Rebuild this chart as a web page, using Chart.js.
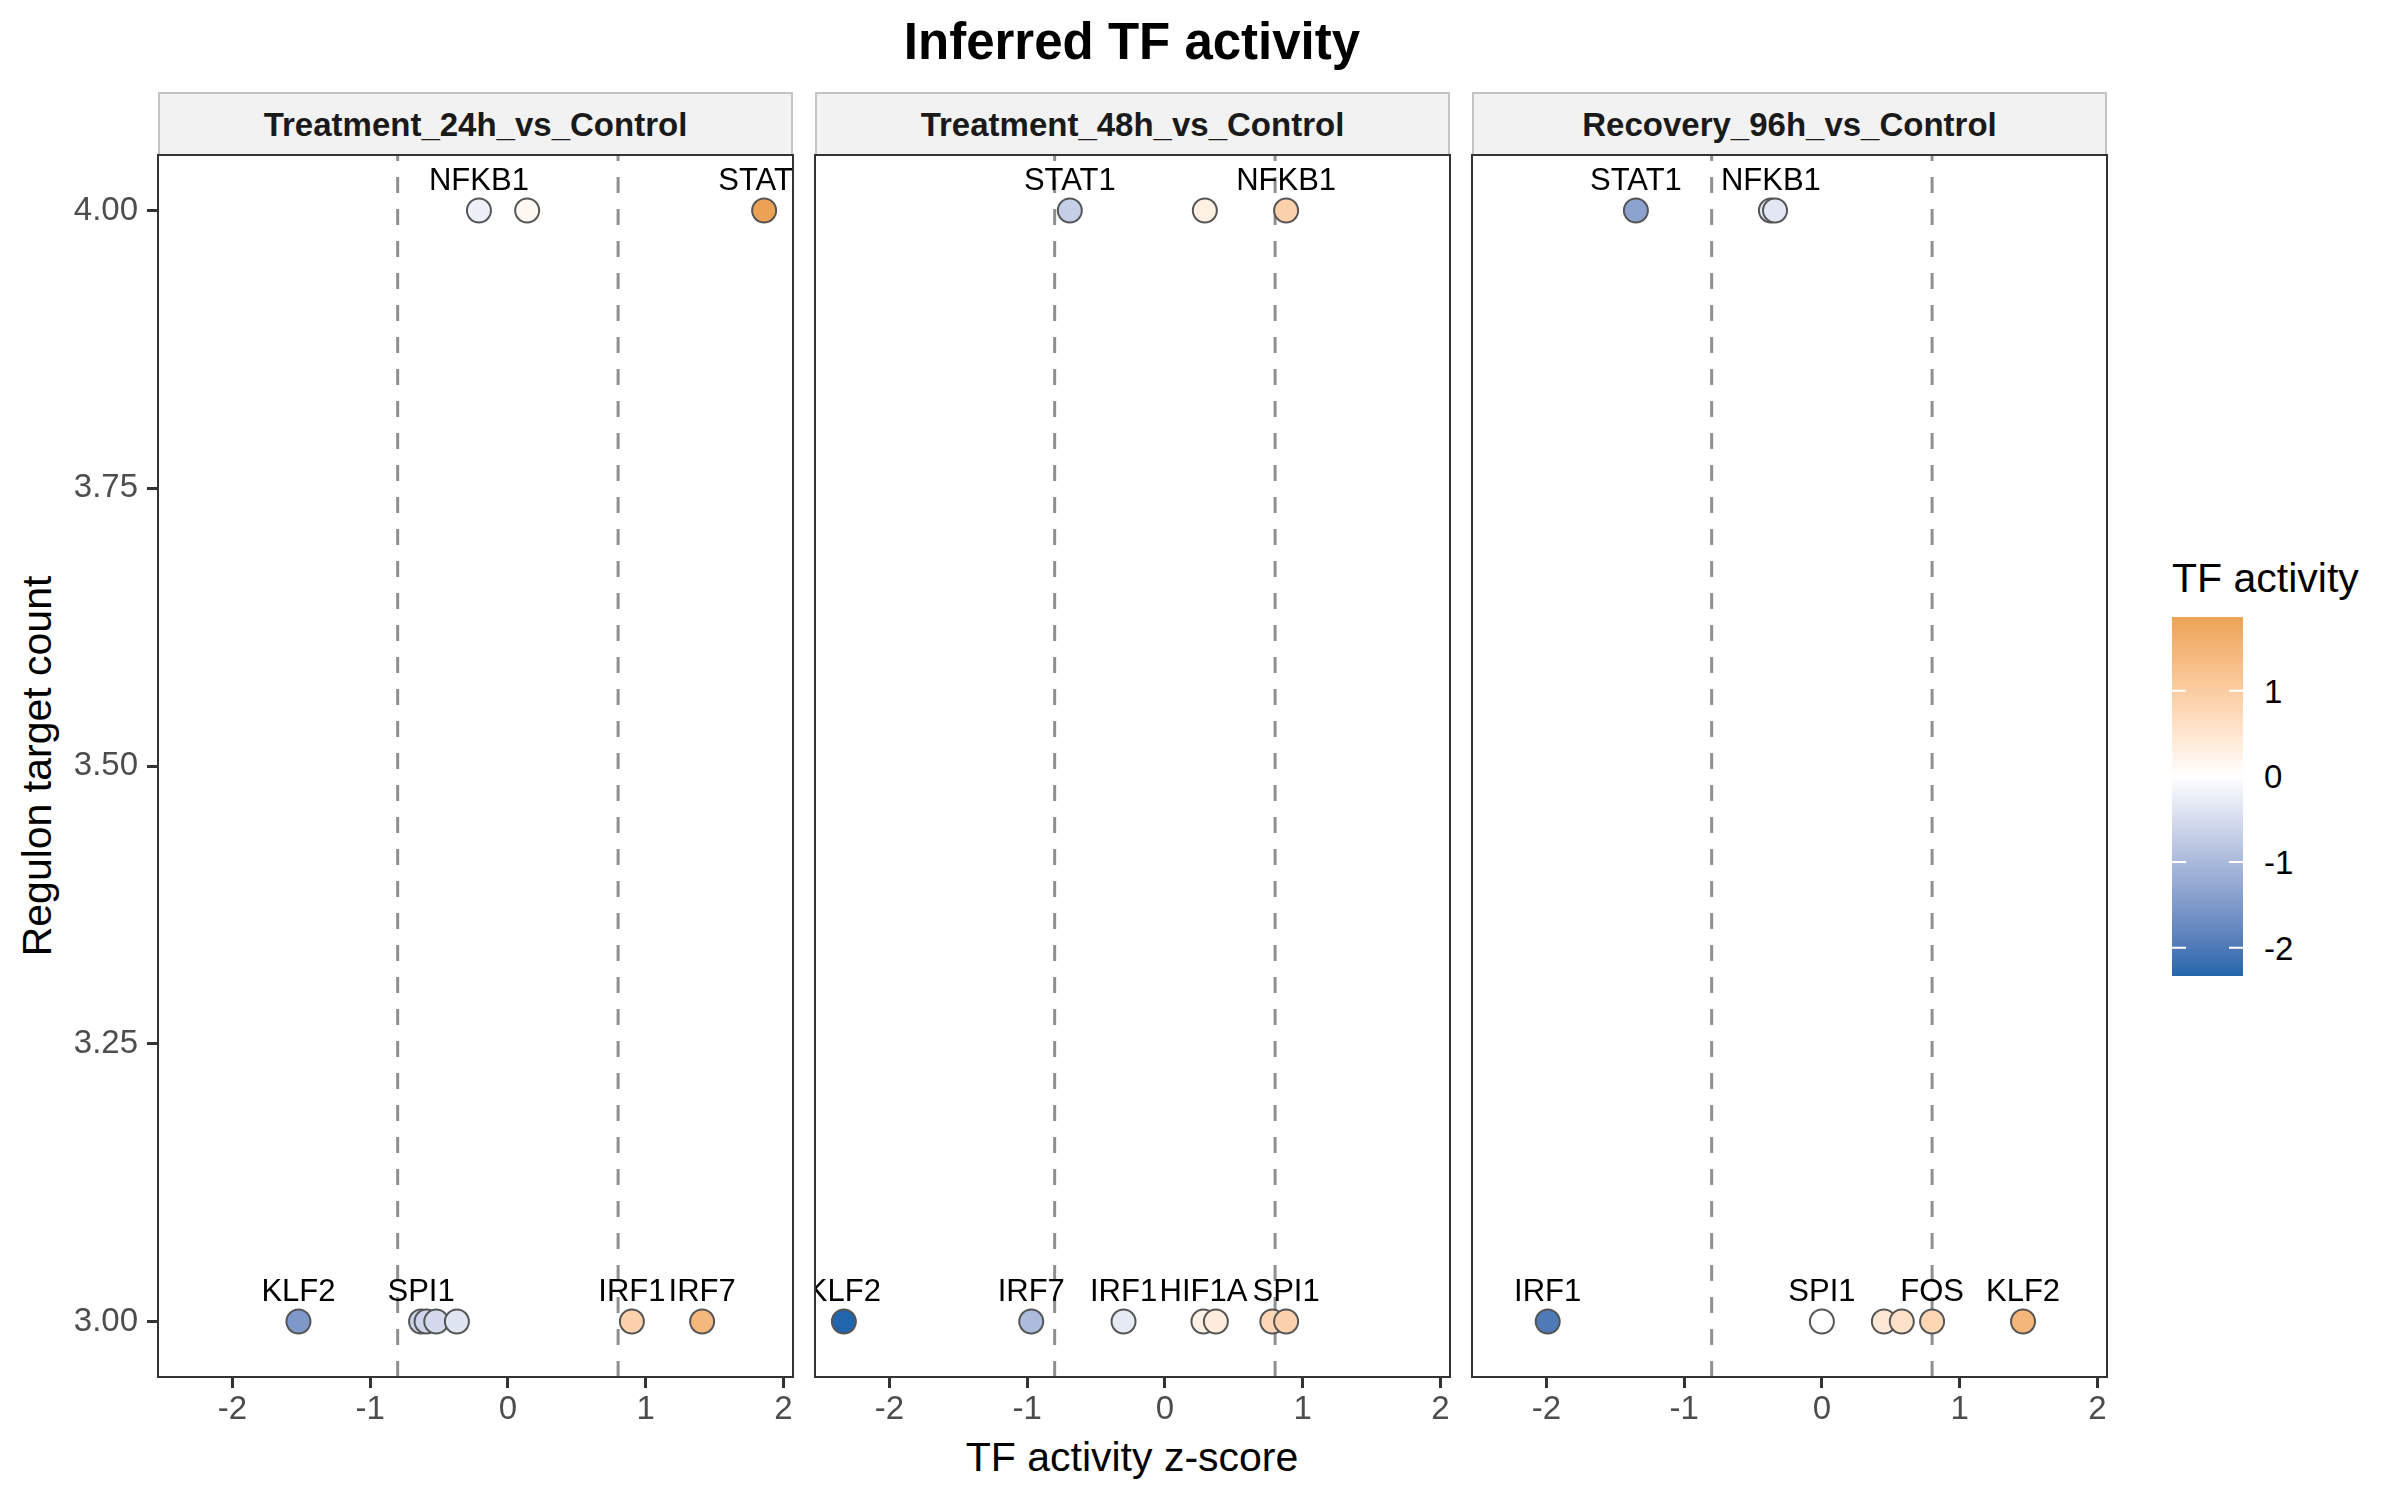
<!DOCTYPE html>
<html>
<head>
<meta charset="utf-8">
<title>Inferred TF activity</title>
<script src="https://cdn.jsdelivr.net/npm/chart.js@4.4.1/dist/chart.umd.min.js"></script>
<style>
    html, body { margin: 0; padding: 0; background: #fff; }
    body {
        width: 2400px; height: 1500px; position: relative; overflow: hidden;
        font-family: 'Liberation Sans', Arial, sans-serif; color: #000;
    }
    .txt { position: absolute; white-space: nowrap; line-height: 1; transform: translate(-50%, -50%); }
    .strip {
        position: absolute; box-sizing: border-box; background: #F2F2F2;
        border: 2px solid #C4C4C4; font-weight: bold; font-size: 33px; color: #1A1A1A;
        display: flex; align-items: center; justify-content: center; line-height: 1;
    }
    .panel { position: absolute; }
    .legLab { position: absolute; font-size: 33px; line-height: 1; transform: translateY(-50%); }
</style>
</head>
<body>

<div class="txt" id="title" style="left:1132px; top:41px; font-size:51px; font-weight:bold;">Inferred TF activity</div>
<div class="txt" style="left:1132px; top:1457px; font-size:41px;">TF activity z-score</div>
<div class="txt" style="left:37px; top:766px; font-size:41px; transform: translate(-50%, -50%) rotate(-90deg);">Regulon target count</div>

<div id="strips"></div>
<div id="panels"></div>

<div class="txt" style="left:2172px; top:578px; font-size:41px; transform: translateY(-50%);">TF activity</div>
<canvas id="legendBar" width="71" height="359" style="position:absolute; left:2172px; top:617px;"></canvas>
<div id="legendLabels"></div>

<script>
/* ---------- data ---------- */
const panelTitles = ['Treatment_24h_vs_Control', 'Treatment_48h_vs_Control', 'Recovery_96h_vs_Control'];

const t24Score = [-0.21, 0.14, 1.86, -1.52, -0.63, -0.59, -0.52, -0.37, 0.90, 1.41];
const t24Count = [4, 4, 4, 3, 3, 3, 3, 3, 3, 3];
const t24Label = ['NFKB1', '', 'STAT1', 'KLF2', 'SPI1', '', '', '', 'IRF1', 'IRF7'];

const t48Score = [-0.69, 0.29, 0.88, -2.33, -0.97, -0.30, 0.28, 0.37, 0.78, 0.88];
const t48Count = [4, 4, 4, 3, 3, 3, 3, 3, 3, 3];
const t48Label = ['STAT1', '', 'NFKB1', 'KLF2', 'IRF7', 'IRF1', 'HIF1A', '', '', 'SPI1'];

const r96Score = [-1.35, -0.37, -0.34, -1.99, 0.00, 0.45, 0.58, 0.80, 1.46];
const r96Count = [4, 4, 4, 3, 3, 3, 3, 3, 3];
const r96Label = ['STAT1', 'NFKB1', '', 'IRF1', 'SPI1', '', '', 'FOS', 'KLF2'];

const thresholds = [-0.8, 0.8];
const xTicks = [-2, -1, 0, 1, 2];
const yTicks = [3, 3.25, 3.5, 3.75, 4];
const legendTicks = [1, 0, -1, -2];

/* ---------- layout ---------- */
const PLOT_TOP = 155, PLOT_BOTTOM = 1377;
const PANEL_LEFT = [158, 815, 1472];
const PANEL_W = 635;
const Y_AXIS_W = 158;
const X_AXIS_H = 1500 - PLOT_BOTTOM;
const PAD = 4;
const FONT = "'Liberation Sans', Arial, sans-serif";

const allScores = [...t24Score, ...t48Score, ...r96Score];
const allCounts = [...t24Count, ...t48Count, ...r96Count];
const sMin = Math.min(...allScores), sMax = Math.max(...allScores);
const xMin = sMin - (sMax - sMin) * 0.05, xMax = sMax + (sMax - sMin) * 0.05;
const cMin = Math.min(...allCounts), cMax = Math.max(...allCounts);
const yMin = cMin - (cMax - cMin) * 0.05, yMax = cMax + (cMax - cMin) * 0.05;

/* ---------- diverging colour scale (Lab interpolation, like gradient2) ---------- */
const lowHex = '#2166AC', midHex = '#FFFFFF', highHex = '#E08C24';

function hexToLab(hex) {
    const c = [1, 3, 5].map(i => parseInt(hex.substr(i, 2), 16) / 255)
        .map(v => v <= 0.04045 ? v / 12.92 : Math.pow((v + 0.055) / 1.055, 2.4));
    const X = (0.4124 * c[0] + 0.3576 * c[1] + 0.1805 * c[2]) / 0.95047;
    const Y = 0.2126 * c[0] + 0.7152 * c[1] + 0.0722 * c[2];
    const Z = (0.0193 * c[0] + 0.1192 * c[1] + 0.9505 * c[2]) / 1.08883;
    const f = t => t > 0.008856 ? Math.cbrt(t) : 7.787 * t + 16 / 116;
    return [116 * f(Y) - 16, 500 * (f(X) - f(Y)), 200 * (f(Y) - f(Z))];
}

function labToHex(L, a, b) {
    const fy = (L + 16) / 116, fx = fy + a / 500, fz = fy - b / 200;
    const inv = t => t * t * t > 0.008856 ? t * t * t : (t - 16 / 116) / 7.787;
    const X = inv(fx) * 0.95047, Y = inv(fy), Z = inv(fz) * 1.08883;
    const lin = [
        3.2406 * X - 1.5372 * Y - 0.4986 * Z,
        -0.9689 * X + 1.8758 * Y + 0.0415 * Z,
        0.0557 * X - 0.2040 * Y + 1.0570 * Z
    ];
    return '#' + lin.map(v => {
        v = Math.min(1, Math.max(0, v));
        v = v <= 0.0031308 ? 12.92 * v : 1.055 * Math.pow(v, 1 / 2.4) - 0.055;
        return Math.round(v * 255).toString(16).padStart(2, '0');
    }).join('');
}

const labLow = hexToLab(lowHex), labMid = hexToLab(midHex), labHigh = hexToLab(highHex);
const extent = Math.max(Math.abs(sMin), Math.abs(sMax));

function activityColor(v) {
    const t = Math.max(-1, Math.min(1, v / extent));
    const end = t < 0 ? labLow : labHigh;
    const f = Math.abs(t);
    return labToHex(...labMid.map((m, i) => m + (end[i] - m) * f));
}

/* ---------- plugins ---------- */
const framePlugin = {
    id: 'panelFrame',
    afterDraw(chart) {
        const { ctx, chartArea: a } = chart;
        ctx.save();
        ctx.strokeStyle = '#333333';
        ctx.lineWidth = 2;
        ctx.strokeRect(a.left, a.top, a.right - a.left, a.bottom - a.top);
        ctx.restore();
    }
};

const labelPlugin = {
    id: 'pointLabels',
    afterDatasetsDraw(chart) {
        const ds = chart.data.datasets[0];
        const meta = chart.getDatasetMeta(0);
        const { ctx, chartArea: a } = chart;
        ctx.save();
        ctx.beginPath();
        ctx.rect(a.left, a.top, a.right - a.left, a.bottom - a.top);
        ctx.clip();
        ctx.font = `31px ${FONT}`;
        ctx.fillStyle = '#000';
        ctx.textAlign = 'center';
        ctx.textBaseline = 'middle';
        meta.data.forEach((pt, i) => {
            const txt = ds.pointNames[i];
            if (txt) ctx.fillText(txt, pt.x, pt.y - 29);
        });
        ctx.restore();
    }
};

/* ---------- panels ---------- */
const panelData = [
    { score: t24Score, count: t24Count, label: t24Label },
    { score: t48Score, count: t48Count, label: t48Label },
    { score: r96Score, count: r96Count, label: r96Label }
];

function buildPanel(p) {
    const first = p === 0;
    const left = first ? 0 : PANEL_LEFT[p] - PAD;
    const width = first ? PANEL_LEFT[0] + PANEL_W + PAD : PANEL_W + 2 * PAD;
    const height = PAD + (PLOT_BOTTOM - PLOT_TOP) + X_AXIS_H;

    const strip = document.createElement('div');
    strip.className = 'strip';
    strip.style.left = PANEL_LEFT[p] + 'px';
    strip.style.top = '92px';
    strip.style.width = PANEL_W + 'px';
    strip.style.height = (PLOT_TOP - 92 + 1) + 'px';
    strip.textContent = panelTitles[p];
    document.getElementById('strips').appendChild(strip);

    const canvas = document.createElement('canvas');
    canvas.className = 'panel';
    canvas.width = width;
    canvas.height = height;
    canvas.style.left = left + 'px';
    canvas.style.top = (PLOT_TOP - PAD) + 'px';
    document.getElementById('panels').appendChild(canvas);

    const d = panelData[p];
    const datasets = [{
        type: 'scatter',
        data: d.score.map((s, i) => ({ x: s, y: d.count[i] })),
        pointNames: d.label,
        backgroundColor: d.score.map(activityColor),
        borderColor: '#555555',
        borderWidth: 2,
        pointRadius: 12,
        order: 0
    }];
    thresholds.forEach(t => datasets.push({
        type: 'line',
        data: [{ x: t, y: yMin }, { x: t, y: yMax }],
        borderColor: '#8F8F8F',
        borderWidth: 3,
        borderDash: [16, 16],
        pointRadius: 0,
        fill: false,
        order: 1
    }));

    new Chart(canvas, {
        type: 'scatter',
        data: { datasets },
        options: {
            responsive: false,
            devicePixelRatio: 1,
            animation: false,
            events: [],
            layout: {
                autoPadding: false,
                padding: { left: first ? 0 : PAD, right: PAD, top: PAD, bottom: 0 }
            },
            plugins: { legend: { display: false }, tooltip: { enabled: false } },
            scales: {
                x: {
                    type: 'linear',
                    min: xMin,
                    max: xMax,
                    afterBuildTicks: s => { s.ticks = xTicks.map(v => ({ value: v })); },
                    afterFit: s => { s.height = X_AXIS_H; s.paddingLeft = 0; s.paddingRight = 0; },
                    ticks: {
                        font: { family: FONT, size: 33 },
                        color: '#4D4D4D',
                        padding: 2,
                        maxRotation: 0,
                        callback: v => String(v)
                    },
                    grid: { display: true, drawOnChartArea: false, drawTicks: true, tickLength: 11, color: '#333333', lineWidth: 3 },
                    border: { display: false }
                },
                y: {
                    type: 'linear',
                    display: first,
                    min: yMin,
                    max: yMax,
                    afterBuildTicks: s => { s.ticks = yTicks.map(v => ({ value: v })); },
                    afterFit: s => { s.width = first ? Y_AXIS_W : 0; s.paddingTop = 0; s.paddingBottom = 0; },
                    ticks: {
                        font: { family: FONT, size: 33 },
                        color: '#4D4D4D',
                        padding: 9,
                        callback: v => v.toFixed(2)
                    },
                    grid: { display: true, drawOnChartArea: false, drawTicks: true, tickLength: 11, color: '#333333', lineWidth: 3 },
                    border: { display: false }
                }
            }
        },
        plugins: [framePlugin, labelPlugin]
    });
}

[0, 1, 2].forEach(buildPanel);

/* ---------- colour bar legend ---------- */
(function drawLegend() {
    const cv = document.getElementById('legendBar');
    const ctx = cv.getContext('2d');
    const w = cv.width, h = cv.height;
    for (let py = 0; py < h; py++) {
        const v = sMax - (py + 0.5) / h * (sMax - sMin);
        ctx.fillStyle = activityColor(v);
        ctx.fillRect(0, py, w, 1);
    }
    ctx.strokeStyle = '#FFFFFF';
    ctx.lineWidth = 2;
    const holder = document.getElementById('legendLabels');
    legendTicks.forEach(v => {
        const y = (sMax - v) / (sMax - sMin) * h;
        ctx.beginPath();
        ctx.moveTo(0, y); ctx.lineTo(14, y);
        ctx.moveTo(w - 14, y); ctx.lineTo(w, y);
        ctx.stroke();
        const lab = document.createElement('div');
        lab.className = 'legLab';
        lab.style.left = '2264px';
        lab.style.top = (617 + y) + 'px';
        lab.textContent = String(v);
        holder.appendChild(lab);
    });
})();
</script>
</body>
</html>
